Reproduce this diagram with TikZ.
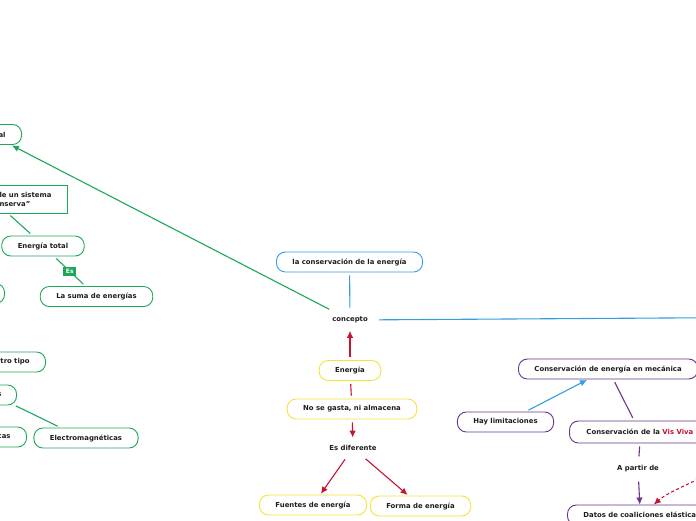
\documentclass[tikz,border=0pt]{standalone}
\usepackage{fontspec}
\setmainfont{DejaVu Sans}
\usepackage{tikz}
\usetikzlibrary{arrows.meta}

\definecolor{mgreen}{RGB}{28,168,88}
\definecolor{mblue}{RGB}{52,158,224}
\definecolor{myellow}{RGB}{246,226,58}
\definecolor{mpurple}{RGB}{104,52,140}
\definecolor{mred}{RGB}{200,18,50}
\definecolor{mtext}{RGB}{30,30,30}

\newcommand{\lbl}{\fontsize{6.9}{9}\selectfont\bfseries}

\begin{document}
\begin{tikzpicture}[x=1pt, y=-1pt, >={Latex[length=7pt,width=6.5pt]},
  pill/.style={draw, rounded corners=9pt, minimum height=20pt, inner xsep=16pt,
    line width=0.9pt, fill=white, text=mtext, font=\lbl},
  gpill/.style={pill, draw=mgreen},
  bpill/.style={pill, draw=mblue},
  ypill/.style={pill, draw=myellow},
  ppill/.style={pill, draw=mpurple},
  gbox/.style={rectangle, color=mgreen, draw, line width=0.9pt, inner xsep=14pt,
    minimum height=28pt, text=mtext, font=\lbl},
  plain/.style={inner sep=6pt, text=mtext, font=\lbl},
  link/.style={line width=1.1pt, shorten <=3pt, shorten >=3pt},
  gline/.style={link, mgreen},
  bline/.style={link, mblue},
  rline/.style={link, mred},
  pline/.style={link, mpurple}]

\useasboundingbox (0,0) rectangle (696,520);
\clip (0,0) rectangle (696,520);

% rama izquierda
\node[gpill, anchor=east, text width=50pt, align=right] (principio) at (22,134.5) {al};
\node[gbox, anchor=east, text width=54pt, align=left] (sistema) at (68,199) {le un sistema\\nserva"};
\node[gpill] (total) at (43,246) {Energía total};
\node[gpill, anchor=east, minimum width=40pt] (oculto) at (5,293.5) {};
\node[gpill] (suma) at (96.5,296.5) {La suma de energías};
\node[gpill, anchor=east, text width=30pt, align=right] (otro) at (46,362) {tro tipo};
\node[gpill, anchor=east, text width=20pt, align=right, inner xsep=15pt] (tipos) at (17,395) {s};
\node[gpill, anchor=east, text width=30pt, align=right] (cas) at (27,437) {cas};
\node[gpill] (electro) at (86,438) {Electromagnéticas};

% centro
\node[bpill] (conserv) at (349.5,262) {la conservación de la energía};
\node[plain] (concepto) at (350,320) {concepto};
\node[ypill] (energia) at (350,370.5) {Energía};
\node[ypill] (nogasta) at (352,409) {No se gasta, ni almacena};
\node[plain] (diferente) at (353,448) {Es diferente};
\node[ypill] (fuentes) at (313,505) {Fuentes de energía};
\node[ypill] (forma) at (420.5,506) {Forma de energía};

% derecha
\node[ppill, anchor=west] (mecanica) at (518,369) {Conservación de energía en mecánica};
\node[ppill] (limita) at (505.5,422) {Hay limitaciones};
\node[ppill, anchor=west, inner xsep=17pt, minimum height=22pt] (visviva) at (569,432)
  {Conservación de la \textcolor{mred}{Vis Viva}};
\node[plain] (partir) at (638,469) {A partir de};
\node[ppill, anchor=west] (datos) at (567,515) {Datos de coaliciones elástica};

\coordinate (fueraDer) at (760,317.4);
\coordinate (fueraVis) at (716,470);

\draw[gline, ->, shorten >=1pt] (concepto) -- ([xshift=-11pt]principio.south east);
\draw[gline] ([xshift=23pt]sistema.south west) -- ([xshift=-10.5pt]total.north);
\draw[gline] (total) -- (suma) node[midway, fill=mgreen, text=white, font=\fontsize{6}{7}\selectfont\bfseries, inner sep=2.5pt] {Es};
\draw[gline, shorten <=1pt] ([xshift=-2pt]tipos.south east) -- ([xshift=27pt]electro.north west);

\draw[bline] (conserv) -- (concepto);
\draw[bline, shorten <=5pt] (concepto) -- (fueraDer);
\draw[rline, ->, shorten >=1.5pt] (energia) -- (concepto);
\draw[rline] (energia) -- (nogasta);
\draw[rline, ->, shorten >=1.5pt] (nogasta) -- (diferente);
\draw[rline, ->, shorten >=1pt] (diferente) -- (fuentes);
\draw[rline, ->, shorten >=1pt] (diferente) -- (forma);

\draw[bline, ->, shorten >=1pt] (limita) -- (mecanica);
\draw[pline] (mecanica) -- (visviva);
\draw[pline] (visviva.south) -- (partir);
\draw[pline, ->, shorten >=0pt] (partir) -- (datos.north);
\draw[rline, ->, dash pattern=on 3pt off 2.5pt, shorten >=0pt]
  (fueraVis) .. controls (692,483) and (668,492) .. ([xshift=14pt]datos.north);

\end{tikzpicture}
\end{document}
